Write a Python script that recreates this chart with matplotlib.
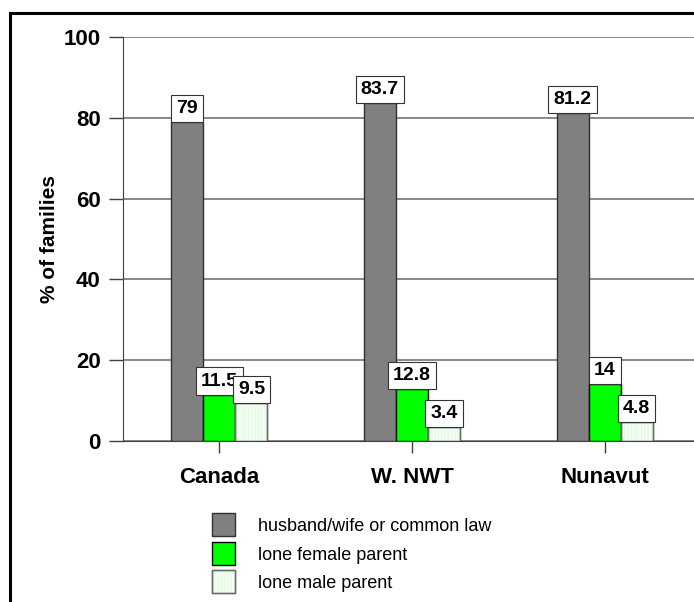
import matplotlib
matplotlib.use("Agg")
import matplotlib.pyplot as plt
from matplotlib.lines import Line2D
from matplotlib.patches import Rectangle
import numpy as np

plt.rcParams['font.family'] = ['Liberation Sans', 'DejaVu Sans']

# Family structure by region
regions = ["Canada", "W. NWT", "Nunavut"]
husband_wife = [79, 83.7, 81.2]
lone_female = [11.5, 12.8, 14]
lone_male = [9.5, 3.4, 4.8]
series_names = ["husband/wife or common law", "lone female parent", "lone male parent"]
yticks = [0, 20, 40, 60, 80, 100]

W, H = 694, 602
fig = plt.figure(figsize=(W / 100, H / 100), dpi=100)

# axes box in pixel terms: x from 123 to 701 (runs off the right edge), y from 37 to 441
ax = fig.add_axes([123 / W, (H - 441) / H, (701 - 123) / W, (441 - 37) / H])

x = np.arange(len(regions))
bw = 1 / 6
faces = ["#808080", "#00ff00", "#f0fff0"]
edges = ["#303030", "#000000", "#6a6a6a"]
series = [husband_wife, lone_female, lone_male]
stripe = "#e2f6e2"

bars = []
for i, (vals, fc, ec) in enumerate(zip(series, faces, edges)):
    b = ax.bar(x + (i - 1) * bw, vals, width=bw, color=fc, edgecolor=ec,
               linewidth=1.0, zorder=3)
    bars.append(b)

# faint vertical striping on the lone male bars
plt.rcParams['hatch.linewidth'] = 0.5
ax.bar(x + bw, lone_male, width=bw, color="none", edgecolor=stripe,
       hatch="|||||", linewidth=0, zorder=3.5)
ax.bar(x + bw, lone_male, width=bw, color="none", edgecolor=edges[2],
       linewidth=1.0, zorder=3.6)

# value boxes sitting on top of each bar
for b, vals in zip(bars, series):
    for rect, v in zip(b, vals):
        ax.annotate(f"{v:g}", (rect.get_x() + rect.get_width() / 2, v),
                    xytext=(0, 3.6), textcoords="offset points",
                    ha="center", va="bottom", fontsize=14, fontweight="bold",
                    zorder=5,
                    bbox=dict(boxstyle="square,pad=0.26", fc="white",
                              ec="#333333", lw=0.8))

ax.set_xlim(-0.5, 2.5)
ax.set_ylim(0, 100)
ax.set_yticks(yticks)
ax.set_yticklabels([str(t) for t in yticks], fontsize=16, fontweight="bold")
ax.set_xticks(x)
ax.set_xticklabels(regions, fontsize=16, fontweight="bold")
ax.tick_params(axis="y", direction="out", length=10, width=1, color="#404040", pad=6)
ax.tick_params(axis="x", direction="out", length=8.5, width=1, color="#404040", pad=10)

ax.yaxis.grid(True, color="#7f7f7f", linewidth=1.3, zorder=0)
ax.set_axisbelow(True)
for s in ["top", "right"]:
    ax.spines[s].set_visible(False)
ax.spines["left"].set_color("#404040")
ax.spines["bottom"].set_color("#404040")
ax.spines["left"].set_zorder(4)

ax.set_ylabel("% of families", fontsize=15, fontweight="bold")
ax.yaxis.set_label_coords(-64 / (701 - 123), 0.5)

# legend below the plot: swatch squares plus labels, laid out in pixels
row_top = [513, 541.5, 570]
for top, name, fc, ec in zip(row_top, series_names, faces, edges):
    fig.add_artist(Rectangle((212 / W, 1 - (top + 23) / H), 23 / W, 23 / H,
                             facecolor=fc, edgecolor=ec, linewidth=1.0,
                             transform=fig.transFigure))
    if fc == faces[2]:
        fig.add_artist(Rectangle((212 / W, 1 - (top + 23) / H), 23 / W, 23 / H,
                                 facecolor="none", edgecolor=stripe,
                                 hatch="|||||", linewidth=0,
                                 transform=fig.transFigure))
        fig.add_artist(Rectangle((212 / W, 1 - (top + 23) / H), 23 / W, 23 / H,
                                 facecolor="none", edgecolor=ec, linewidth=1.0,
                                 transform=fig.transFigure))
    fig.text(258 / W, 1 - (top + 11.5) / H, name, fontsize=13,
             ha="left", va="center_baseline")

# frame lines on the top and left edges
fig.add_artist(Line2D([9.7 / W, 9.7 / W], [0, 1 - 12.5 / H], color="black",
                      linewidth=2.2, transform=fig.transFigure))
fig.add_artist(Line2D([9.7 / W, 1], [1 - 12.5 / H, 1 - 12.5 / H], color="black",
                      linewidth=2.2, transform=fig.transFigure))

fig.savefig("out.png", dpi=100)
